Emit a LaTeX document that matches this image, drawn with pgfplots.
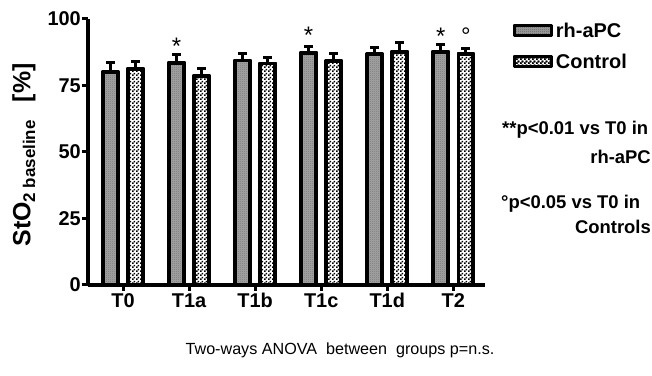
\documentclass[border=0pt]{standalone}
\usepackage{fontspec}
\setmainfont{Liberation Sans}
\usepackage{pgfplots}
\usepackage{pgfplotstable}
\pgfplotsset{compat=1.18}
\usetikzlibrary{patterns,patterns.meta}

\tikzdeclarepattern{name=checks, type=uncolored, bottom left={(0,0)}, top right={(4bp,4bp)}, tile size={(4bp,4bp)},
  code={\fill (0,0) rectangle (2bp,2bp); \fill (2bp,2bp) rectangle (4bp,4bp);}}
\tikzdeclarepattern{name=finechecks, type=uncolored, bottom left={(0,0)}, top right={(2bp,2bp)}, tile size={(2bp,2bp)},
  code={\fill (0,0) rectangle (1bp,1bp); \fill (1bp,1bp) rectangle (2bp,2bp);}}

\pgfplotstableread{
x y err
0 80.0 3.5
1 83.6 3.2
2 84.4 2.6
3 87.3 2.3
4 86.7 2.4
5 87.7 2.6
}\rhdata
\pgfplotstableread{
x y err
0 81.3 2.6
1 78.6 2.7
2 83.3 2.1
3 84.2 2.8
4 87.7 3.6
5 86.9 1.9
}\ctrldata

\begin{document}
\begin{tikzpicture}
\begin{axis}[
  at={(88bp,91bp)}, anchor=south west,
  scale only axis, width=397bp, height=266bp,
  xmin=-0.53, xmax=5.48, ymin=0, ymax=100,
  axis lines*=left,
  axis line style={line width=3.5bp},
  tick style={line width=3bp, black},
  tick align=outside, major tick length=6bp,
  xtick={0,...,5}, xticklabels={T0,T1a,T1b,T1c,T1d,T2},
  ytick={0,25,50,75,100},
  /pgf/number format/assume math mode=true,
  ticklabel style={font=\bfseries\fontsize{20}{20}\selectfont},
  yticklabel style={inner xsep=1bp},
  xticklabel style={inner ysep=2bp, text height=14bp, text depth=0bp},
  clip=false,
  legend style={draw=none, fill=none, at={(1.07,0.99)}, anchor=north west,
    font=\bfseries\fontsize{20}{20}\selectfont, row sep=13bp, inner sep=0pt,
    nodes={inner xsep=3bp, inner ysep=1bp}},
  legend cell align=left,
  error bars/y dir=plus, error bars/y explicit,
  error bars/error bar style={line width=3bp, black},
  error bars/error mark options={rotate=90, mark size=4.5bp, line width=3bp, black},
]
\addplot[ybar, bar width=0.225, bar shift=0pt, draw=black, line width=3.8bp, line join=round,
  fill=black!35, postaction={pattern=finechecks, pattern color=black!60},
  legend image code/.code={\draw[line width=3bp, draw=black, fill=black!35, postaction={pattern=finechecks, pattern color=black!60}] (0bp,-5bp) rectangle (37bp,5bp);}]
  table[x expr=\thisrow{x}-0.19, y=y, y error=err] {\rhdata};
\addplot[ybar, bar width=0.225, bar shift=0pt, draw=black, line width=3.8bp, line join=round,
  fill=white, postaction={pattern=checks, pattern color=black},
  legend image code/.code={\draw[line width=3bp, draw=black, fill=white, postaction={pattern=checks, pattern color=black}] (0bp,-5bp) rectangle (37bp,5bp);}]
  table[x expr=\thisrow{x}+0.19, y=y, y error=err] {\ctrldata};
\addplot[only marks, mark=*, mark size=0pt, forget plot, error bars/y dir=none,
  nodes near coords, point meta=explicit symbolic,
  every node near coord/.append style={anchor=base, inner sep=0pt, font=\fontsize{24}{24}\selectfont}]
  coordinates {(0.81,86.5) [*] (2.81,90.8) [*] (4.81,90.6) [*] (5.19,90.3) [°]};
\legend{rh-aPC, Control}
\end{axis}
\node[rotate=90, font=\bfseries\fontsize{25}{25}\selectfont] at (24bp,221bp)
  {StO\raisebox{-0.35ex}{\fontsize{17}{17}\selectfont 2 baseline}\hspace{18bp}[\%]};
\begin{scope}[every node/.style={font=\bfseries\fontsize{18.5}{18.5}\selectfont, inner sep=0pt}]
\node[anchor=mid west] at (502bp,244bp) {**p<0.01 vs T0 in};
\node[anchor=mid east] at (651bp,215bp) {rh-aPC};
\node[anchor=mid west] at (501bp,170bp) {°p<0.05 vs T0 in};
\node[anchor=mid east] at (651bp,145bp) {Controls};
\end{scope}
\node[font=\fontsize{16.2}{16.2}\selectfont, inner sep=0pt] at (340bp,26bp)
  {Two-ways ANOVA\ \ between\ \ groups p=n.s.};
\pgfresetboundingbox
\useasboundingbox (0,0) rectangle (652bp,376bp);
\end{tikzpicture}
\end{document}
